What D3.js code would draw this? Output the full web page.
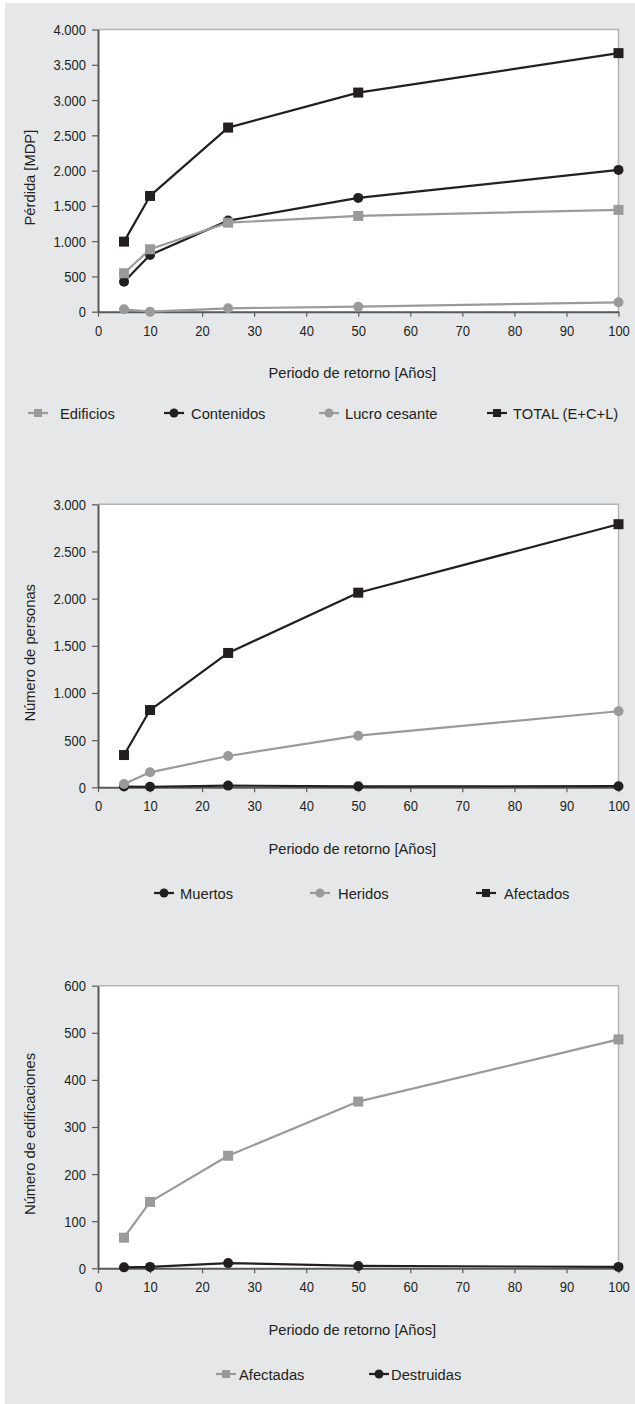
<!DOCTYPE html>
<html>
<head>
<meta charset="utf-8">
<script src="https://cdn.jsdelivr.net/npm/d3@7"></script>
<style>
  html, body { margin: 0; padding: 0; background: #ffffff; }
  svg text { font-family: "Liberation Sans", Arimo, Arial, sans-serif; fill: #231f20; }
</style>
</head>
<body>
<svg id="chart" width="635" height="1404"></svg>
<script>
// Return periods (years)
const returnPeriod = [5, 10, 25, 50, 100];

// Chart 1: economic losses (MDP)
const edificios    = [545, 885, 1262, 1357, 1443];
const contenidos   = [425, 804, 1291, 1613, 2010];
const lucroCesante = [34, 0, 48, 71, 133];
const totalECL     = [993, 1641, 2610, 3106, 3665];

// Chart 2: people
const muertos   = [8, 6, 18, 10, 12];
const heridos   = [35, 159, 332, 547, 806];
const afectados = [342, 819, 1424, 2063, 2789];

// Chart 3: buildings
const edifAfectadas  = [65, 141, 239, 354, 486];
const edifDestruidas = [2, 3, 11, 5, 3];

const xTicks = [0, 10, 20, 30, 40, 50, 60, 70, 80, 90, 100];
const yTicks1 = [0, 500, 1000, 1500, 2000, 2500, 3000, 3500, 4000];
const yTicks2 = [0, 500, 1000, 1500, 2000, 2500, 3000];
const yTicks3 = [0, 100, 200, 300, 400, 500, 600];

const BLACK = "#231f20";
const GRAY = "#9a9a9a";
const FS = 15.5;      // font size
const SX_NUM = 0.84;  // horizontal condensing for tick numbers
const SX_TXT = 0.95;  // horizontal condensing for words

const locale = d3.formatLocale({ decimal: ",", thousands: ".", grouping: [3], currency: ["$", ""] });
const fmt = locale.format(",d");

const svg = d3.select("#chart");
svg.append("rect").attr("x", 5).attr("y", 3).attr("width", 630).attr("height", 1401).attr("fill", "#e6e7e8");

// Move a text's x/y into a transform so the glyphs can be narrowed around their anchor
function condense(sel) {
  sel.each(function () {
    const t = d3.select(this);
    const x = +t.attr("x") || 0, y = +t.attr("y") || 0;
    t.attr("x", 0).attr("y", 0).attr("transform", `translate(${x},${y}) scale(${SX_NUM},1)`);
  });
}

function label(parent, x, y, str, anchor, rotate) {
  return parent.append("text")
    .attr("transform", `translate(${x},${y})${rotate ? " rotate(-90)" : ""} scale(${SX_TXT},1)`)
    .attr("text-anchor", anchor).attr("font-size", FS).text(str);
}

function drawChart(cfg) {
  const { top, bottom, left, right, yMax, yTicks, yTitle, series, legendY } = cfg;
  const x = d3.scaleLinear().domain([0, 100]).range([left, right]);
  const y = d3.scaleLinear().domain([0, yMax]).range([bottom, top]);
  const g = svg.append("g");

  // plot area
  g.append("rect").attr("x", left).attr("y", top).attr("width", right - left).attr("height", bottom - top)
    .attr("fill", "#ffffff");
  g.append("path").attr("d", `M${left},${top}H${right}V${bottom}`).attr("fill", "none")
    .attr("stroke", "#b4b4b4").attr("stroke-width", 1.5);

  // axes
  const yAxis = d3.axisLeft(y).tickValues(yTicks).tickFormat(fmt).tickSize(6).tickSizeOuter(0).tickPadding(6);
  const ya = g.append("g").attr("transform", `translate(${left},0)`).call(yAxis);
  const xAxis = d3.axisBottom(x).tickValues(xTicks).tickFormat(d3.format("d")).tickSize(5).tickSizeOuter(0).tickPadding(8);
  const xa = g.append("g").attr("transform", `translate(0,${bottom})`).call(xAxis);
  [ya, xa].forEach(a => {
    a.attr("font-family", null).attr("font-size", null);
    a.select(".domain").attr("stroke", "#58595b").attr("stroke-width", 2);
    a.selectAll(".tick line").attr("stroke", "#58595b").attr("stroke-width", 1.2);
    a.selectAll(".tick text").attr("font-size", FS).attr("fill", BLACK).call(condense);
  });

  // axis titles
  label(g, (left + right) / 2 - 6, bottom + 66.5, "Periodo de retorno [Años]", "middle");
  label(g, 35, (top + bottom) / 2 + 7, yTitle, "middle", true);

  // series
  const line = d3.line().x((d, i) => x(returnPeriod[i])).y(d => y(d));
  series.forEach(s => {
    g.append("path").datum(s.values).attr("d", line).attr("fill", "none")
      .attr("stroke", s.color).attr("stroke-width", 2.2).attr("stroke-linejoin", "round");
    const pts = g.append("g");
    s.values.forEach((v, i) => {
      const cx = x(returnPeriod[i]), cy = y(v);
      if (s.shape === "square") {
        pts.append("rect").attr("x", cx - 5).attr("y", cy - 5).attr("width", 10).attr("height", 10).attr("fill", s.color);
      } else {
        pts.append("circle").attr("cx", cx).attr("cy", cy).attr("r", 5).attr("fill", s.color);
      }
    });
  });

  // legend
  series.forEach(s => {
    const lg = g.append("g").attr("transform", `translate(${s.legendX},${legendY})`);
    lg.append("line").attr("x1", 0).attr("x2", 20).attr("y1", 0).attr("y2", 0)
      .attr("stroke", s.color).attr("stroke-width", 2.2);
    if (s.shape === "square") {
      lg.append("rect").attr("x", 6).attr("y", -4).attr("width", 8).attr("height", 8).attr("fill", s.color);
    } else {
      lg.append("circle").attr("cx", 10).attr("cy", 0).attr("r", 4.5).attr("fill", s.color);
    }
    label(lg, s.textDx, 5.5, s.name, "start");
  });
}

drawChart({
  top: 29.5, bottom: 311.7, left: 98, right: 618.5, yMax: 4000, yTicks: yTicks1,
  yTitle: "Pérdida [MDP]", legendY: 413,
  series: [
    { name: "Contenidos", values: contenidos, color: BLACK, shape: "circle", legendX: 164, textDx: 27 },
    { name: "Edificios", values: edificios, color: GRAY, shape: "square", legendX: 28, textDx: 32 },
    { name: "Lucro cesante", values: lucroCesante, color: GRAY, shape: "circle", legendX: 319, textDx: 26 },
    { name: "TOTAL (E+C+L)", values: totalECL, color: BLACK, shape: "square", legendX: 487, textDx: 26 }
  ]
});

drawChart({
  top: 504.3, bottom: 787.3, left: 98, right: 618.5, yMax: 3000, yTicks: yTicks2,
  yTitle: "Número de personas", legendY: 893,
  series: [
    { name: "Muertos", values: muertos, color: BLACK, shape: "circle", legendX: 154, textDx: 26 },
    { name: "Heridos", values: heridos, color: GRAY, shape: "circle", legendX: 310, textDx: 28 },
    { name: "Afectados", values: afectados, color: BLACK, shape: "square", legendX: 476, textDx: 28 }
  ]
});

drawChart({
  top: 985.7, bottom: 1268.3, left: 98, right: 618.5, yMax: 600, yTicks: yTicks3,
  yTitle: "Número de edificaciones", legendY: 1374,
  series: [
    { name: "Afectadas", values: edifAfectadas, color: GRAY, shape: "square", legendX: 216, textDx: 23 },
    { name: "Destruidas", values: edifDestruidas, color: BLACK, shape: "circle", legendX: 369, textDx: 22 }
  ]
});
</script>
</body>
</html>
